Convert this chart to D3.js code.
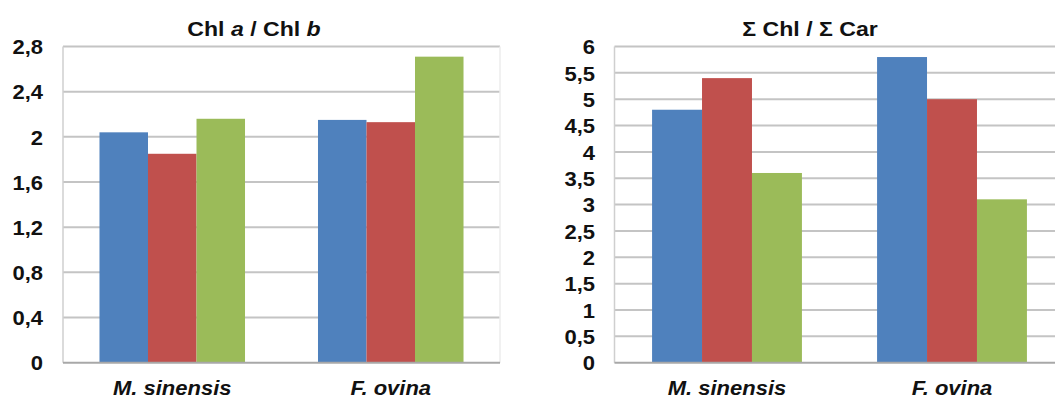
<!DOCTYPE html>
<html><head><meta charset="utf-8">
<script src="https://cdn.jsdelivr.net/npm/d3@7"></script>
<style>
html,body{margin:0;padding:0;background:#fff;}
svg{display:block;}
text{font-family:"Liberation Sans",Arial,sans-serif;font-weight:bold;fill:#111;}
</style></head>
<body>
<svg id="chart" width="1055" height="400"></svg>
<script>
const categories = ["M. sinensis", "F. ovina"];
const seriesNames = ["Series 1", "Series 2", "Series 3"];
const seriesColors = ["#4F81BD", "#C0504D", "#9BBB59"];
// Chl a / Chl b
const ratioAB = [
  [2.04, 2.15],  // series 1
  [1.85, 2.13],  // series 2
  [2.16, 2.71]   // series 3
];
// Σ Chl / Σ Car
const ratioChlCar = [
  [4.8, 5.8],
  [5.4, 5.0],
  [3.6, 3.1]
];
const ticksAB = [0, 0.4, 0.8, 1.2, 1.6, 2, 2.4, 2.8];
const ticksChlCar = [0, 0.5, 1, 1.5, 2, 2.5, 3, 3.5, 4, 4.5, 5, 5.5, 6];

const locale = d3.formatLocale({decimal: ",", thousands: " ", grouping: [3], currency: ["", ""]});
const fmt = v => locale.format("~g")(v);

const svg = d3.select("#chart");
const SX = 1.1;
const FONT = '"Liberation Sans",Arial,sans-serif';

function drawPanel(opt) {
  const g = svg.append("g");
  const x = d3.scaleBand().domain(categories).range([opt.x0, opt.x1])
    .paddingInner(0.334).paddingOuter(0.167);
  const xs = d3.scaleBand().domain(d3.range(seriesNames.length)).range([0, x.bandwidth()]);
  const y = d3.scaleLinear().domain([0, opt.max]).range([opt.yb, opt.yt]);

  // gridlines
  g.append("g").selectAll("line").data(opt.ticks.filter(t => t > 0)).join("line")
    .attr("x1", opt.x0).attr("x2", opt.x1)
    .attr("y1", d => y(d)).attr("y2", d => y(d))
    .attr("stroke", "#c4c4c4").attr("stroke-width", 2);
  // plot border (left + right faint)
  g.append("line").attr("x1", opt.x0).attr("x2", opt.x0).attr("y1", opt.yt).attr("y2", opt.yb)
    .attr("stroke", "#cfcfcf").attr("stroke-width", 1.5);
  g.append("line").attr("x1", opt.x1).attr("x2", opt.x1).attr("y1", opt.yt).attr("y2", opt.yb)
    .attr("stroke", "#ececec").attr("stroke-width", 1.5);

  // bars
  const data = [];
  categories.forEach((c, ci) => seriesNames.forEach((s, si) => data.push({c, si, v: opt.values[si][ci]})));
  g.append("g").selectAll("rect").data(data).join("rect")
    .attr("x", d => x(d.c) + xs(d.si))
    .attr("width", xs.bandwidth())
    .attr("y", d => y(d.v))
    .attr("height", d => y(0) - y(d.v))
    .attr("fill", d => seriesColors[d.si]);

  // baseline axis
  g.append("line").attr("x1", opt.x0).attr("x2", opt.x1).attr("y1", y(0)).attr("y2", y(0))
    .attr("stroke", "#a8a8a8").attr("stroke-width", 2);

  // y axis labels
  const ya = d3.axisLeft(y).tickValues(opt.ticks).tickFormat(fmt).tickSize(0).tickPadding(0);
  const yg = g.append("g").attr("transform", `translate(${opt.labelX},0)`).call(ya);
  yg.select(".domain").remove();
  yg.selectAll("text").attr("x", 0).attr("dy", "0.36em")
    .style("font-size", "20px").style("font-family", FONT)
    .style("font-weight", "bold").attr("fill", "#111")
    .attr("transform", `scale(${SX},1)`);

  // x axis labels
  const xa = d3.axisBottom(x).tickSize(0).tickPadding(0);
  const xg = g.append("g").attr("transform", `translate(0,${opt.catY})`).call(xa);
  xg.select(".domain").remove();
  xg.selectAll(".tick text").attr("y", 0).attr("dy", 0)
    .style("font-size", "20px").style("font-style", "italic")
    .style("font-family", FONT)
    .style("font-weight", "bold").attr("fill", "#111")
    .attr("transform", `scale(${SX},1)`);

  // title
  const t = g.append("text").attr("transform", `translate(${opt.titleX},${opt.titleY}) scale(${SX},1)`)
    .attr("text-anchor", "middle").style("font-size", "21px");
  opt.title.forEach(p => t.append("tspan").text(p.t).style("font-style", p.i ? "italic" : "normal"));
}

drawPanel({
  x0: 63, x1: 500, yt: 46.5, yb: 362.7, max: 2.8, ticks: ticksAB, values: ratioAB,
  labelX: 43, catY: 395, titleX: 254, titleY: 36,
  title: [{t: "Chl "}, {t: "a", i: true}, {t: " / Chl "}, {t: "b", i: true}]
});
drawPanel({
  x0: 614.5, x1: 1064.5, yt: 46.5, yb: 362.7, max: 6, ticks: ticksChlCar, values: ratioChlCar,
  labelX: 595, catY: 395, titleX: 810, titleY: 36,
  title: [{t: "Σ Chl / Σ Car"}]
});
</script>
</body></html>
